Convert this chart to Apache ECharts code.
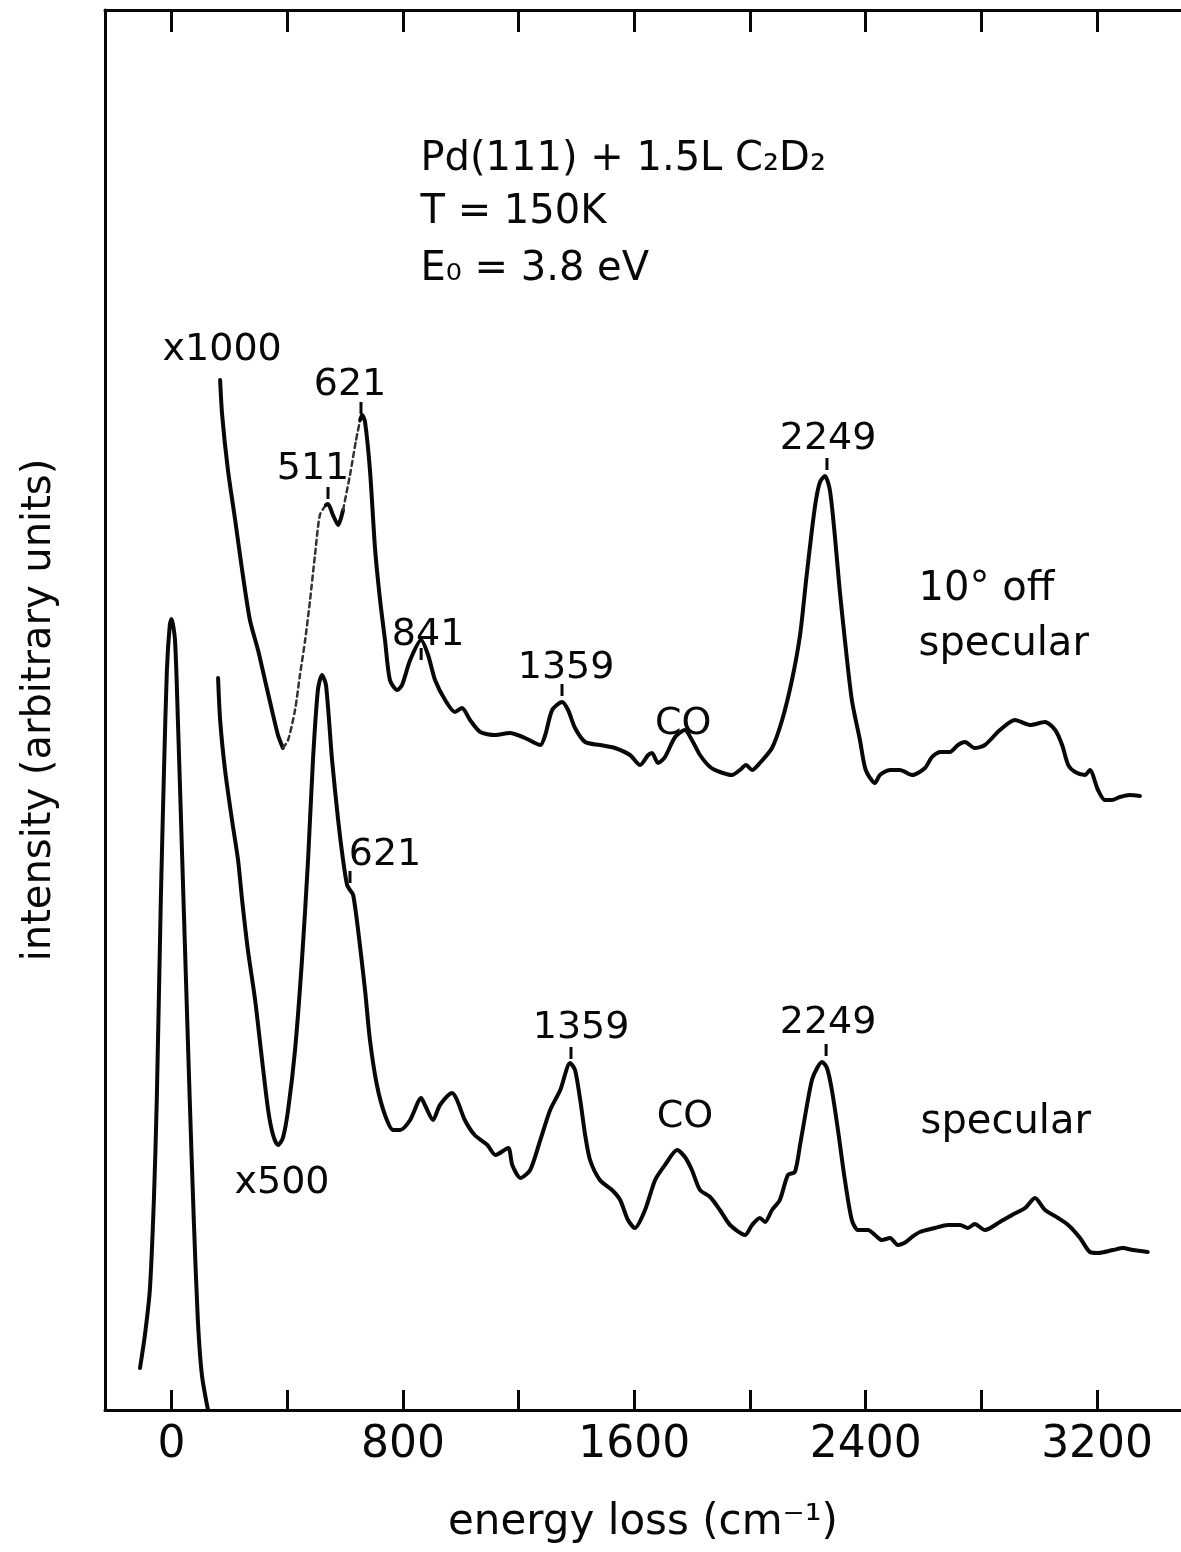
<!DOCTYPE html>
<html>
<head>
<meta charset="utf-8">
<script src="https://cdn.jsdelivr.net/npm/echarts@6/dist/echarts.min.js"></script>
<style>
html,body{margin:0;padding:0;background:#fff;}
#main{width:1181px;height:1552px;}
</style>
</head>
<body>
<div id="main"></div>
<script>
// [energy loss cm-1, intensity arb.]
var elastic = [[-109,42],[-92,75],[-75,120],[-61,210],[-51,310],[-37,510],[-26,640],[-16,740],[-6,785],[0,791],
  [12,770],[22,690],[36,560],[50,430],[63,310],[77,190],[91,90],[105,35],[126,0]];

// x1000, 10 deg off specular
var offSpecular = [[168,1030],[175,995],[195,940],[220,890],[244,840],[271,790],[299,760],[323,730],[347,700],[368,675],
  [385,662],[403,670],[427,700],[444,735],[462,770],[479,810],[496,855],[513,895],[534,905],[541,906],
  [558,895],[576,885],[593,900],[617,935],[638,970],[652,990],[659,995],[669,988],[686,940],[704,860],
  [721,810],[738,770],[755,730],[780,720],[797,725],[825,750],[863,770],[887,755],[911,730],[946,710],
  [980,698],[1004,702],[1032,690],[1067,678],[1118,675],[1170,677],[1222,672],[1275,665],[1292,675],[1316,700],
  [1350,708],[1371,700],[1395,682],[1430,668],[1481,665],[1533,662],[1585,655],[1620,645],[1648,655],[1661,657],
  [1682,647],[1706,653],[1741,673],[1775,680],[1799,670],[1827,655],[1862,643],[1896,638],[1938,635],[1965,640],
  [1986,645],[2007,640],[2034,647],[2076,662],[2111,690],[2145,730],[2173,775],[2194,830],[2214,880],[2228,910],
  [2242,928],[2259,934],[2276,920],[2293,875],[2310,820],[2328,770],[2352,710],[2380,670],[2400,640],[2432,627],
  [2449,635],[2484,640],[2518,640],[2560,635],[2605,642],[2629,653],[2657,658],[2691,658],[2719,665],[2743,668],
  [2777,662],[2812,665],[2864,680],[2916,690],[2968,685],[3020,688],[3055,680],[3079,665],[3100,645],[3124,638],
  [3158,635],[3175,640],[3203,620],[3227,610],[3251,610],[3279,613],[3313,615],[3348,614]];

// x500, specular
var specular = [[161,732],[168,690],[185,640],[209,590],[230,550],[244,510],[264,460],[289,410],[313,350],[334,300],
  [351,275],[368,265],[385,272],[403,300],[427,360],[451,450],[472,550],[489,650],[506,720],[520,735],
  [534,725],[555,650],[576,590],[593,550],[607,525],[617,520],[628,515],[645,480],[669,420],[686,370],
  [710,325],[738,295],[766,280],[790,280],[825,290],[863,312],[876,305],[904,290],[928,305],[970,317],
  [987,310],[1014,290],[1048,275],[1092,265],[1120,255],[1164,262],[1178,245],[1206,232],[1240,240],[1275,270],
  [1309,300],[1344,320],[1378,347],[1395,340],[1413,310],[1430,275],[1447,250],[1481,230],[1523,220],[1551,210],
  [1578,190],[1602,182],[1637,200],[1672,230],[1706,245],[1748,260],[1775,253],[1799,240],[1827,220],[1862,213],
  [1896,200],[1931,185],[1983,175],[2007,185],[2034,192],[2052,188],[2076,200],[2103,210],[2131,235],[2155,238],
  [2173,265],[2194,300],[2214,330],[2232,342],[2249,348],[2266,342],[2283,320],[2304,280],[2328,230],[2352,190],
  [2373,180],[2408,180],[2432,175],[2456,170],[2484,172],[2511,165],[2539,168],[2560,173],[2587,178],[2639,182],
  [2684,185],[2726,185],[2753,182],[2777,186],[2812,180],[2864,188],[2906,195],[2951,202],[2985,212],[3020,200],
  [3065,192],[3100,185],[3141,172],[3175,158],[3203,157],[3255,160],[3289,162],[3324,160],[3375,158]];

var tickValues = [0,400,800,1200,1600,2000,2400,2800,3200];
var labelValues = [0,800,1600,2400,3200];

// peak labels: text, x, y
var peakLabels = [['621',617,1025],['511',489,941],['841',887,775],['1359',1364,742],['CO',1769,686],['2249',2270,971],
  ['x1000',175,1060],['621',738,555],['1359',1416,382],['CO',1775,293],['2249',2270,387],['x500',382,227]];
// little marks above the peaks
var peakTicks = [[655,1002],[541,917],[863,756],[1350,720],[2266,946],[617,533],[1381,357],[2263,360]];
// left-aligned notes
var notes = [['Pd(111) + 1.5L C₂D₂',859,1250],['T = 150K',859,1197],['E₀ = 3.8 eV',859,1140],
  ['10° off',2581,820],['specular',2581,765],['specular',2588,287]];

var FONT = 'DejaVu Sans';
var INK = '#080808';

function part(data, lo, hi){
  return data.filter(function(p){ return p[0] >= lo && p[0] <= hi; });
}

function curve(data, faint){
  return {
    type: 'line', data: data, showSymbol: false, smooth: 0.25, silent: true,
    lineStyle: {color: faint ? '#333' : INK, width: faint ? 2.5 : 4, type: faint ? [5, 4] : 'solid', cap: 'round', join: 'round'}
  };
}

var hidden = {color: 'rgba(0,0,0,0)', opacity: 1};

var chart = echarts.init(document.getElementById('main'));
chart.setOption({
  animation: false,
  backgroundColor: '#fff',
  grid: {left: 105, right: 0, top: 10, bottom: 142},
  xAxis: [{
    type: 'value', min: -230, max: 3490, position: 'bottom',
    axisLine: {show: true, onZero: false, lineStyle: {color: INK, width: 3}},
    axisTick: {show: true, inside: true, length: 20, customValues: tickValues, lineStyle: {color: INK, width: 3}},
    axisLabel: {customValues: labelValues, fontSize: 44, margin: 14, color: INK, fontFamily: FONT,
      formatter: function(v){ return String(v); }},
    splitLine: {show: false},
    name: 'energy loss (cm⁻¹)', nameLocation: 'middle', nameGap: 92,
    nameTextStyle: {fontSize: 42, color: INK, fontFamily: FONT}
  }, {
    type: 'value', min: -230, max: 3490, position: 'top',
    axisLine: {show: true, onZero: false, lineStyle: {color: INK, width: 3}},
    axisTick: {show: true, inside: true, length: 22, customValues: tickValues, lineStyle: {color: INK, width: 3}},
    axisLabel: {show: false},
    splitLine: {show: false}
  }],
  yAxis: {
    type: 'value', min: 0, max: 1400,
    axisLine: {show: true, onZero: false, lineStyle: {color: INK, width: 3}},
    axisTick: {show: false}, axisLabel: {show: false}, splitLine: {show: false},
    name: 'intensity (arbitrary units)', nameLocation: 'middle', nameGap: 45, nameRotate: 90,
    nameTextStyle: {fontSize: 40, color: INK, fontFamily: FONT}
  },
  series: [
    curve(elastic),
    curve(part(offSpecular, 0, 385)),
    curve(part(offSpecular, 385, 534), true),
    curve(part(offSpecular, 534, 593)),
    curve(part(offSpecular, 593, 652), true),
    curve(part(offSpecular, 652, 4000)),
    curve(specular),
    {
      type: 'scatter', silent: true, symbol: 'rect', symbolSize: [3, 12],
      itemStyle: {color: INK, opacity: 1}, data: peakTicks
    },
    {
      type: 'scatter', silent: true, symbolSize: 1, itemStyle: hidden,
      data: peakLabels.map(function(l){ return {name: l[0], value: [l[1], l[2]]}; }),
      label: {show: true, position: 'inside', formatter: '{b}', fontSize: 38, color: INK, fontFamily: FONT}
    },
    {
      type: 'scatter', silent: true, symbolSize: 1, itemStyle: hidden,
      data: notes.map(function(l){ return {name: l[0], value: [l[1], l[2]]}; }),
      label: {show: true, position: 'right', distance: 0, formatter: '{b}', fontSize: 40, color: INK, fontFamily: FONT}
    }
  ]
});
</script>
</body>
</html>
